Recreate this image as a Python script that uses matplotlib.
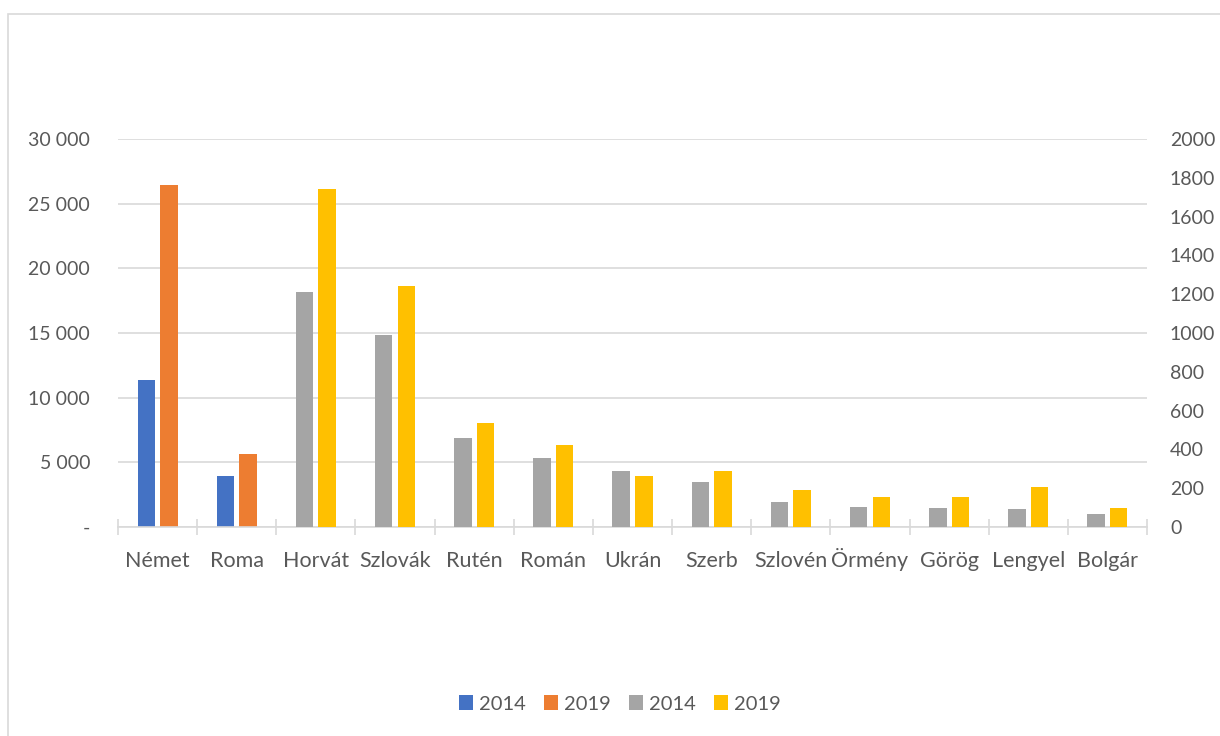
import numpy as np
import matplotlib
matplotlib.use("Agg")
import matplotlib.pyplot as plt
from matplotlib.patches import Rectangle
from matplotlib.ticker import FuncFormatter

plt.rcParams['font.family'] = ['Lato', 'DejaVu Sans']

# nationality categories
categories = ['Német', 'Roma', 'Horvát', 'Szlovák', 'Rutén', 'Román', 'Ukrán',
              'Szerb', 'Szlovén', 'Örmény', 'Görög', 'Lengyel', 'Bolgár']

# large groups (left axis)
big_2014 = [11360, 3960, 0, 0, 0, 0, 0, 0, 0, 0, 0, 0, 0]
big_2019 = [26450, 5640, 0, 0, 0, 0, 0, 0, 0, 0, 0, 0, 0]

# smaller groups (right axis)
small_2014 = [0, 0, 1209, 991, 459, 356, 287, 232, 129, 105, 96, 94, 69]
small_2019 = [0, 0, 1742, 1244, 536, 424, 264, 290, 192, 155, 155, 204, 99]

text_col = '#595959'
grid_col = '#D9D9D9'

fig = plt.figure(figsize=(12.2, 7.36), dpi=100)
fig.patches.append(Rectangle((8 / 1220, -0.1), 1.2, 1 - 14 / 736 + 0.1,
                             transform=fig.transFigure, fill=False,
                             edgecolor=grid_col, linewidth=1.2))

ax = fig.add_axes([118 / 1220, 1 - 527 / 736, (1147 - 118) / 1220, (527 - 139) / 736])
ax2 = ax.twinx()

x = np.arange(len(categories))
w = 0.22
off = 0.143

b1 = ax.bar(x - off, big_2014, w, color='#4472C4', label='2014')
b2 = ax.bar(x + off, big_2019, w, color='#ED7D31', label='2019')
b3 = ax2.bar(x - off, small_2014, w, color='#A5A5A5', label='2014')
b4 = ax2.bar(x + off, small_2019, w, color='#FFC000', label='2019')

ax.set_xlim(-0.5, len(categories) - 0.5)
ax.set_ylim(0, 30000)
ax2.set_ylim(0, 2000)
ax.set_yticks(np.arange(0, 30001, 5000))
ax2.set_yticks(np.arange(0, 2001, 200))


def thousands(v, pos):
    if v == 0:
        return '-'
    return f'{int(v):,}'.replace(',', ' ')


ax.yaxis.set_major_formatter(FuncFormatter(thousands))
ax.grid(axis='y', color=grid_col, linewidth=1.2)
ax.set_axisbelow(True)

for a in (ax, ax2):
    for s in a.spines.values():
        s.set_visible(False)
ax.spines['bottom'].set_visible(True)
ax.spines['bottom'].set_color(grid_col)
ax.spines['bottom'].set_linewidth(1.2)

ax.set_xticks(x)
ax.set_xticklabels(categories)
ax.set_xticks(np.arange(-0.5, len(categories)), minor=True)
ax.tick_params(axis='x', which='major', length=0, pad=28.8, labelsize=15.5, labelcolor=text_col)
ax.tick_params(axis='x', which='minor', length=11, direction='inout', color=grid_col, width=1.2)
for lbl in ax.get_xticklabels():
    lbl.set_va('baseline')
ax.tick_params(axis='y', length=0, pad=20, labelsize=14, labelcolor=text_col)
ax2.tick_params(axis='y', length=0, pad=16.5, labelsize=14, labelcolor=text_col)

fig.legend(handles=[b1, b2, b3, b4], labels=['2014', '2019', '2014', '2019'],
           loc='center', bbox_to_anchor=(620 / 1220, 1 - 704 / 736), ncol=4,
           frameon=False, fontsize=14.5, labelcolor=text_col,
           handlelength=0.7, handleheight=0.7, handletextpad=0.3, columnspacing=0.9)

fig.savefig('out.png', dpi=100, facecolor='white')
